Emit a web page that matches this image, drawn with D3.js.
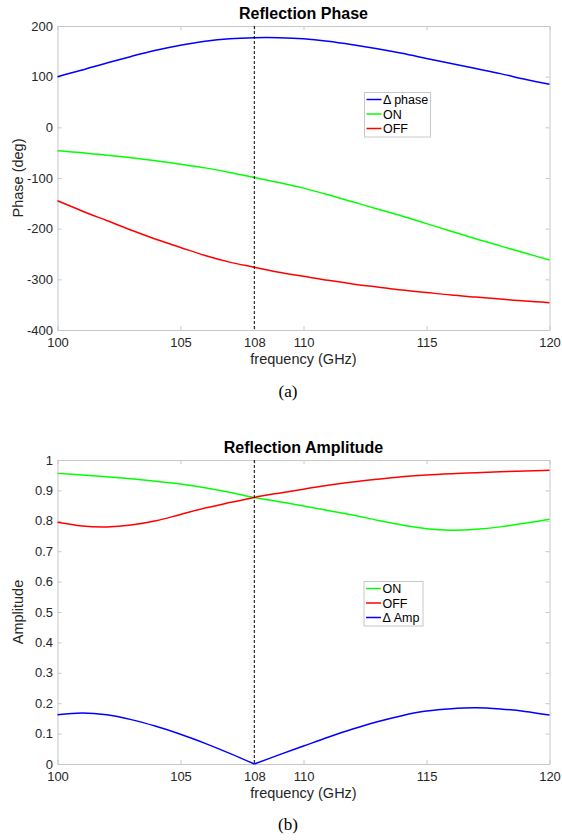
<!DOCTYPE html>
<html>
<head>
<meta charset="utf-8">
<script src="https://cdnjs.cloudflare.com/ajax/libs/d3/7.8.5/d3.min.js"></script>
<style>
  body { margin: 0; background: #fff; }
  svg { display: block; font-family: "Liberation Sans", Arial, sans-serif; }
  .tick text { fill: #262626; font-size: 13px; }
  .tick line, .domain { stroke: #c8c8c8; }
</style>
</head>
<body>
<div id="chart"></div>
<script>
// frequency samples (GHz)
var freq = [100, 101, 102, 103, 104, 105, 106, 107, 108, 109, 110,
            111, 112, 113, 114, 115, 116, 117, 118, 119, 120];

// (a) reflection phase, deg
var phaseDelta = [100, 113, 127, 140, 152, 162, 170, 175, 177, 177, 175,
                  170, 163, 155, 146, 136, 126, 116, 106, 95, 85];
var phaseOn = [-46, -50, -55, -60, -66, -73, -80, -89, -99, -109, -120,
               -133, -147, -161, -175, -190, -205, -220, -234, -248, -262];
var phaseOff = [-145, -165, -184, -203, -221, -237, -253, -266, -276, -286, -294,
                -302, -309, -315, -321, -326, -331, -335, -339, -343, -346];

// (b) reflection amplitude
var ampOn = [0.956, 0.951, 0.945, 0.938, 0.930, 0.921, 0.909, 0.894, 0.877, 0.863, 0.849,
             0.834, 0.819, 0.802, 0.786, 0.774, 0.769, 0.772, 0.780, 0.792, 0.805];
var ampOff = [0.795, 0.783, 0.780, 0.786, 0.800, 0.821, 0.842, 0.860, 0.877, 0.891, 0.904,
              0.917, 0.928, 0.937, 0.945, 0.951, 0.955, 0.958, 0.961, 0.964, 0.966];
var ampDelta = [0.162, 0.168, 0.162, 0.146, 0.124, 0.098, 0.068, 0.035, 0.0, 0.030, 0.059,
                0.088, 0.115, 0.139, 0.159, 0.174, 0.182, 0.185, 0.181, 0.173, 0.161];

var xTicks = [100, 105, 108, 110, 115, 120];
var phaseTicks = [-400, -300, -200, -100, 0, 100, 200];
var ampTicks = [0, 0.1, 0.2, 0.3, 0.4, 0.5, 0.6, 0.7, 0.8, 0.9, 1];
var markerFreq = 108;

var W = 562, H = 840;
var svg = d3.select('#chart').append('svg')
    .attr('width', W)
    .attr('height', H);

var x = d3.scaleLinear().domain([100, 120]).range([57.5, 549.5]);

function panel(opt) {
    var y = d3.scaleLinear().domain(opt.yDomain).range([opt.bottom, opt.top]);
    var g = svg.append('g');

    g.append('g')
        .attr('transform', 'translate(0,' + opt.bottom + ')')
        .call(d3.axisBottom(x).tickValues(xTicks).tickFormat(function(d) { return String(d); })
            .tickSizeInner(-4).tickSizeOuter(0).tickPadding(7.5));
    g.append('g')
        .attr('transform', 'translate(0,' + opt.top + ')')
        .call(d3.axisTop(x).tickValues(xTicks).tickFormat('')
            .tickSizeInner(-4).tickSizeOuter(0));
    g.append('g')
        .attr('transform', 'translate(' + x.range()[0] + ',0)')
        .call(d3.axisLeft(y).tickValues(opt.yTicks).tickFormat(opt.fmt)
            .tickSizeInner(-4).tickSizeOuter(0).tickPadding(4.5));
    g.append('g')
        .attr('transform', 'translate(' + x.range()[1] + ',0)')
        .call(d3.axisRight(y).tickValues(opt.yTicks).tickFormat('')
            .tickSizeInner(-4).tickSizeOuter(0));
    g.selectAll('.domain').attr('stroke', '#c8c8c8');

    var line = d3.line()
        .x(function(d) { return x(d[0]); })
        .y(function(d) { return y(d[1]); })
        .curve(d3.curveCatmullRom.alpha(0.5));

    opt.series.forEach(function(s) {
        var pts = s.values.map(function(v, i) { return [freq[i], v]; });
        // a series with a sharp corner (|ON-OFF| at its zero) is drawn in two pieces
        var pieces = s.corner != null
            ? [pts.filter(function(p) { return p[0] <= s.corner; }),
               pts.filter(function(p) { return p[0] >= s.corner; })]
            : [pts];
        pieces.forEach(function(p) {
            g.append('path')
                .attr('d', line(p))
                .attr('fill', 'none')
                .attr('stroke', s.color)
                .attr('stroke-width', 1.5);
        });
    });

    // dashed marker at 108 GHz
    g.append('line')
        .attr('x1', x(markerFreq)).attr('x2', x(markerFreq))
        .attr('y1', opt.top).attr('y2', opt.bottom)
        .attr('stroke', '#000')
        .attr('stroke-width', 1)
        .attr('stroke-dasharray', '3,2');

    var xm = (x.range()[0] + x.range()[1]) / 2;
    g.append('text')
        .attr('x', xm).attr('y', opt.top - 7)
        .attr('text-anchor', 'middle')
        .attr('font-weight', 'bold')
        .attr('font-size', 16)
        .text(opt.title);
    g.append('text')
        .attr('x', xm).attr('y', opt.bottom + 33.5)
        .attr('text-anchor', 'middle')
        .attr('font-size', 14.5)
        .attr('fill', '#262626')
        .text('frequency (GHz)');
    g.append('text')
        .attr('transform', 'translate(23,' + (opt.top + opt.bottom) / 2 + ')rotate(-90)')
        .attr('text-anchor', 'middle')
        .attr('font-size', 14.5)
        .attr('fill', '#262626')
        .text(opt.ylabel);
    g.append('text')
        .attr('x', 288).attr('y', opt.caption)
        .attr('text-anchor', 'middle')
        .attr('font-family', '"Liberation Serif", "Times New Roman", serif')
        .attr('font-size', 17)
        .text(opt.tag);

    // legend
    var lg = g.append('g').attr('transform', 'translate(' + opt.legend[0] + ',' + opt.legend[1] + ')');
    lg.append('rect')
        .attr('width', opt.legend[2]).attr('height', 44.5)
        .attr('fill', '#fff')
        .attr('stroke', '#c8c8c8');
    opt.legendOrder.forEach(function(s, i) {
        var cy = 7 + i * 14.5;
        lg.append('line')
            .attr('x1', 2).attr('x2', 17)
            .attr('y1', cy).attr('y2', cy)
            .attr('stroke', s.color).attr('stroke-width', 1.5);
        lg.append('text')
            .attr('x', 18.5).attr('y', cy + 4.5)
            .attr('font-size', 12.5)
            .attr('fill', '#000')
            .text(s.name);
    });
}

var sDelta = { name: '\u0394 phase', values: phaseDelta, color: '#0000ff' };
var sOn = { name: 'ON', values: phaseOn, color: '#00ff00' };
var sOff = { name: 'OFF', values: phaseOff, color: '#ff0000' };

panel({
    top: 26, bottom: 330, yDomain: [-400, 200], yTicks: phaseTicks,
    fmt: function(d) { return String(d); },
    title: 'Reflection Phase', ylabel: 'Phase (deg)', tag: '(a)', caption: 397,
    series: [sDelta, sOn, sOff], legendOrder: [sDelta, sOn, sOff],
    legend: [364.5, 92.5, 66]
});

var aOn = { name: 'ON', values: ampOn, color: '#00ff00' };
var aOff = { name: 'OFF', values: ampOff, color: '#ff0000' };
var aDelta = { name: '\u0394 Amp', values: ampDelta, color: '#0000ff', corner: markerFreq };

panel({
    top: 460, bottom: 764, yDomain: [0, 1], yTicks: ampTicks,
    fmt: function(d) { return d === 0 || d === 1 ? String(d) : d3.format('.1f')(d); },
    title: 'Reflection Amplitude', ylabel: 'Amplitude', tag: '(b)', caption: 830,
    series: [aOn, aOff, aDelta], legendOrder: [aOn, aOff, aDelta],
    legend: [364, 581.5, 59]
});
</script>
</body>
</html>
